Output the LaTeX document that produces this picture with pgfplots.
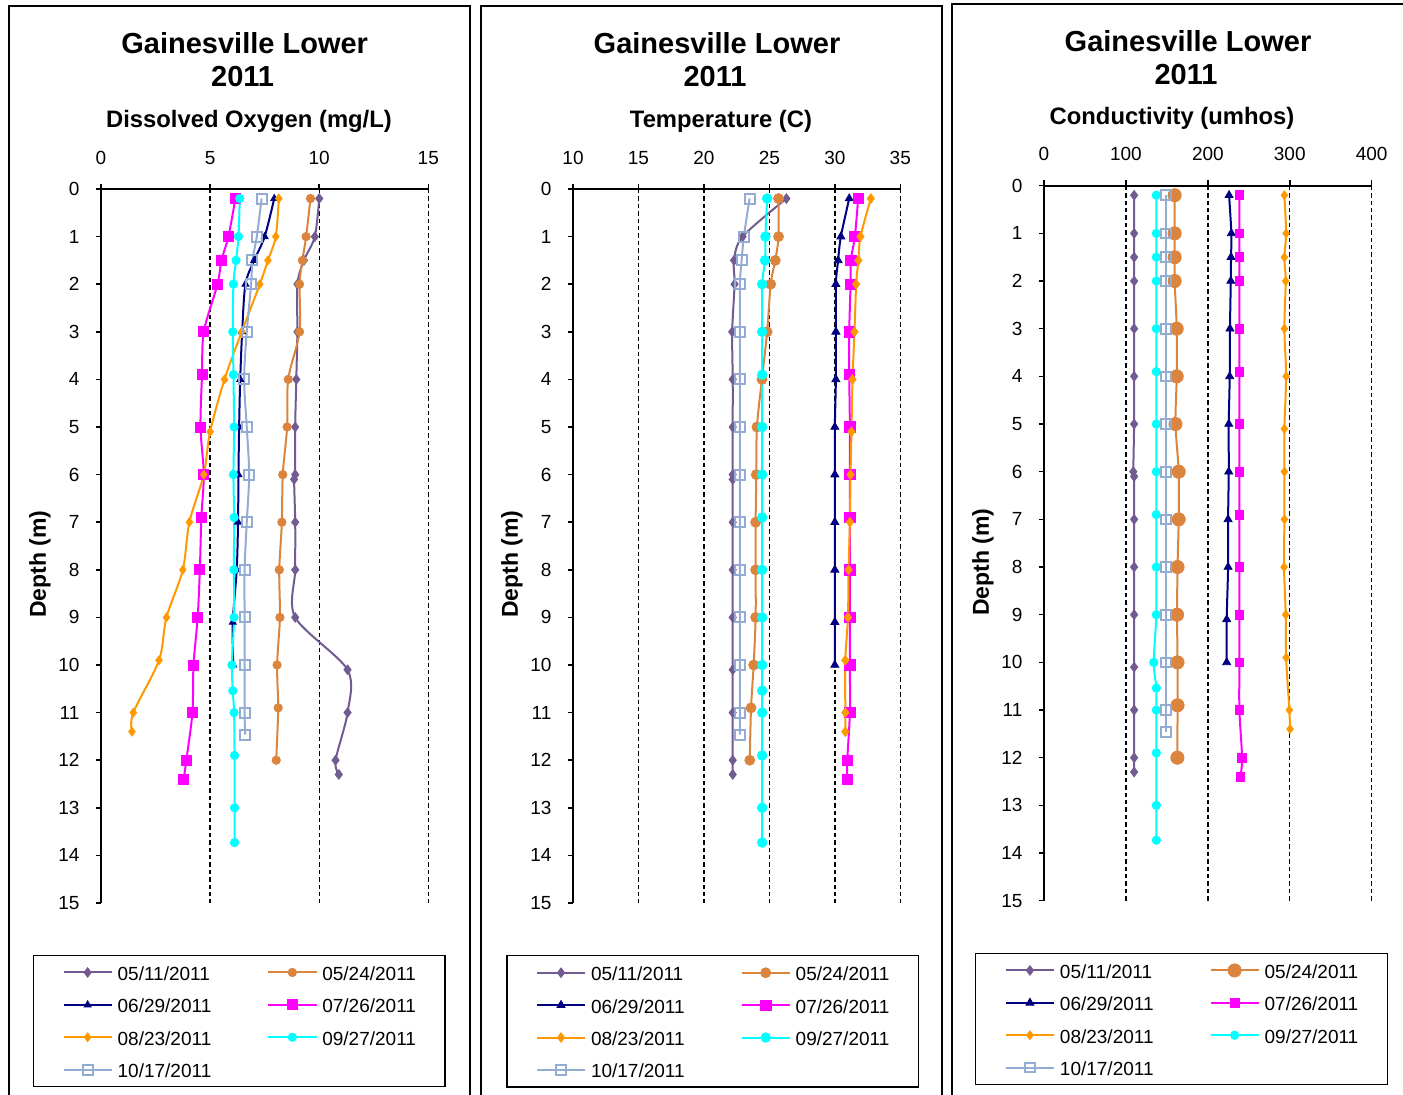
\documentclass[border=0pt]{standalone}
\usepackage{pgfplots}
\pgfplotsset{compat=1.18}
\usepackage{fontspec}
\setmainfont{Liberation Sans}
\definecolor{cA}{RGB}{113,91,145}
\definecolor{cB}{RGB}{219,132,61}
\definecolor{cC}{RGB}{0,0,128}
\definecolor{cD}{RGB}{255,0,255}
\definecolor{cE}{RGB}{255,153,0}
\definecolor{cF}{RGB}{0,255,255}
\definecolor{cG}{RGB}{149,172,210}
\pgfplotsset{
  panel/.style={
    scale only axis, width=163.65pt, height=357pt, clip=false,
    y dir=reverse, ymin=0, ymax=15, ytick={0,1,...,15},
    axis x line=top, axis y line=left,
    axis line style={-, line width=1pt, black},
    every outer x axis line/.append style={-},
    every outer y axis line/.append style={-},
    tick style={black, line width=0.75pt},
    tick align=outside, major tick length=2.75pt,
    xmajorgrids,
    major grid style={black, dash pattern=on 2.2pt off 1.5pt, line width=0.7pt},
    tick label style={font=\fontsize{9.5}{11}\selectfont},
    xticklabel style={yshift=6pt},
    yticklabel style={xshift=-4.5pt},
    /pgf/number format/assume math mode=true,
    legend columns=2,
    legend cell align=left,
    legend style={font=\fontsize{9.5}{11}\selectfont, draw=black, line width=0.75pt,
      inner xsep=14.6pt, inner ysep=4pt, anchor=north west, row sep=7.2pt,
      nodes={inner sep=0pt, text height=8.5pt, text depth=0.5pt},
      /tikz/every even column/.append style={column sep=28pt},
      /tikz/every odd column/.append style={column sep=2.5pt}},
    legend image code/.code={\draw[mark repeat=2,mark phase=2,##1] plot coordinates {(0pt,0pt)(12pt,0pt)(24pt,0pt)};},
  },
  sA/.style={color=cA, line width=1pt, smooth, mark=diamond*, mark size=#1, mark options={solid, fill=cA, line width=0.4pt}},
  sB/.style={color=cB, line width=1pt, smooth, mark=*, mark size=#1, mark options={solid, fill=cB, line width=0.4pt}},
  sC/.style={color=cC, line width=1pt, smooth, mark=triangle*, mark size=#1, mark options={solid, fill=cC, line width=0.4pt}},
  sD/.style={color=cD, line width=1pt, smooth, mark=square*, mark size=#1, mark options={solid, fill=cD, line width=0.4pt}},
  sE/.style={color=cE, line width=1pt, smooth, mark=diamond*, mark size=#1, mark options={solid, fill=cE, line width=0.4pt}},
  sF/.style={color=cF, line width=1pt, smooth, mark=*, mark size=#1, mark options={solid, fill=cF, line width=0.4pt}},
  sG/.style={color=cG, line width=1pt, smooth, mark=square, mark size=#1, mark options={solid, fill=white, line width=1pt}},
}
\begin{document}
\begin{tikzpicture}
\useasboundingbox (0,0) rectangle (701.5pt,-547.5pt);
% panel frames
\draw[line width=1pt] (4.5pt,-560pt) -- (4.5pt,-3pt) -- (235pt,-3pt) -- (235pt,-560pt);
\draw[line width=1pt] (240.35pt,-560pt) -- (240.35pt,-3pt) -- (471.15pt,-3pt) -- (471.15pt,-560pt);
\draw[line width=1pt] (475.85pt,-560pt) -- (475.85pt,-2pt) -- (705pt,-2pt);
% titles
\begin{scope}[every node/.style={anchor=base, font=\bfseries\fontsize{14.5}{16}\selectfont}]
\node at (122.35pt,-27pt) {Gainesville Lower};
\node at (121.3pt,-43.5pt) {2011};
\node at (358.5pt,-27pt) {Gainesville Lower};
\node at (357.5pt,-43.5pt) {2011};
\node at (594pt,-25.85pt) {Gainesville Lower};
\node at (593pt,-42.5pt) {2011};
\end{scope}
\begin{scope}[every node/.style={anchor=base, font=\bfseries\fontsize{11.9}{13}\selectfont}]
\node at (124.5pt,-64pt) {Dissolved Oxygen (mg/L)};
\node at (360.5pt,-64pt) {Temperature (C)};
\node at (586pt,-62.5pt) {Conductivity (umhos)};
\end{scope}
\begin{scope}[every node/.style={rotate=90, font=\bfseries\fontsize{11.5}{13}\selectfont}]
\node at (20pt,-282pt) {Depth (m)};
\node at (256pt,-282pt) {Depth (m)};
\node at (491.5pt,-281pt) {Depth (m)};
\end{scope}

% ---------- Panel 1: Dissolved oxygen
\begin{axis}[panel, at={(50.5pt,-94.5pt)}, anchor=north west,
  xmin=0, xmax=15, xtick={0,5,10,15},
  legend style={at={(-0.2087,-0.0724)}}]
\addplot[sA=2.4pt] coordinates {(10.0,0.2)(9.8,1)(9.3,1.5)(9.0,2)(9.0,3)(8.95,4)(8.9,5)(8.9,6)(8.85,6.1)(8.9,7)(8.9,8)(8.9,9)(11.3,10.1)(11.3,11)(10.75,12)(10.9,12.3)};
\addplot[sB=2.1pt] coordinates {(9.6,0.2)(9.4,1)(9.23,1.5)(9.1,2)(9.1,3)(8.58,4)(8.53,5)(8.33,6)(8.29,7)(8.17,8)(8.2,9)(8.07,10)(8.12,10.9)(8.03,12)};
\addplot[sC=2pt] coordinates {(7.94,0.2)(7.5,1)(7.02,1.5)(6.62,2)(6.47,3)(6.38,4)(6.33,5)(6.3,6)(6.28,7)(6.22,8)(6.04,9.1)(6.06,10)};
\addplot[sD=2.5pt] coordinates {(6.16,0.2)(5.84,1)(5.52,1.5)(5.34,2)(4.71,3)(4.63,3.9)(4.56,5)(4.71,6)(4.6,6.9)(4.53,8)(4.43,9)(4.24,10)(4.19,11)(3.91,12)(3.79,12.4)};
\addplot[sE=2.2pt] coordinates {(8.15,0.2)(8.01,1)(7.65,1.5)(7.28,2)(6.45,3)(5.66,4)(5.0,5.1)(4.71,6)(4.05,7)(3.75,8)(3.0,9)(2.66,9.9)(1.48,11)(1.42,11.4)};
\addplot[sF=2.1pt] coordinates {(6.36,0.2)(6.3,1)(6.19,1.5)(6.07,2)(6.04,3)(6.07,3.9)(6.1,5)(6.07,6)(6.1,6.9)(6.09,8)(6.1,9)(6.0,10)(6.04,10.54)(6.1,11)(6.12,11.9)(6.12,13)(6.12,13.73)};
\addplot[sG=2.5pt] coordinates {(7.36,0.2)(7.14,1)(6.94,1.5)(6.88,2)(6.68,3)(6.56,4)(6.68,5)(6.79,6)(6.68,7)(6.58,8)(6.58,9)(6.58,10)(6.58,11)(6.61,11.46)};
\legend{05/11/2011,05/24/2011,06/29/2011,07/26/2011,08/23/2011,09/27/2011,10/17/2011}
\end{axis}

% ---------- Panel 2: Temperature
\begin{axis}[panel, at={(286.5pt,-94.5pt)}, anchor=north west,
  xmin=10, xmax=35, xtick={10,15,20,25,30,35},
  legend style={at={(-0.2045,-0.0728)}}]
\addplot[sA=2.4pt] coordinates {(26.3,0.2)(22.95,1)(22.3,1.5)(22.34,2)(22.16,3)(22.2,4)(22.2,5)(22.2,6)(22.2,6.1)(22.2,7)(22.2,8)(22.2,9)(22.2,10.1)(22.2,11)(22.2,12)(22.2,12.3)};
\addplot[sB=2.5pt] coordinates {(25.7,0.2)(25.7,1)(25.45,1.5)(25.1,2)(24.83,3)(24.43,4)(24.05,5)(24.0,6)(23.95,7)(23.95,8)(23.95,9)(23.8,10)(23.6,10.9)(23.5,12)};
\addplot[sC=2.3pt] coordinates {(31.1,0.2)(30.46,1)(30.25,1.5)(30.08,2)(30.08,3)(30.08,4)(30.0,5)(30.0,6)(30.0,7)(30.0,8)(30.0,9.1)(30.0,10)};
\addplot[sD=2.6pt] coordinates {(31.78,0.2)(31.53,1)(31.22,1.5)(31.2,2)(31.1,3)(31.1,3.9)(31.15,5)(31.15,6)(31.15,6.9)(31.15,8)(31.15,9)(31.15,10)(31.15,11)(30.95,12)(30.95,12.4)};
\addplot[sE=2.4pt] coordinates {(32.75,0.2)(31.96,1)(31.8,1.5)(31.63,2)(31.5,3)(31.35,4)(31.27,5.1)(31.2,6)(31.15,7)(31.05,8)(31.0,9)(30.8,9.9)(30.8,11)(30.8,11.4)};
\addplot[sF=2.4pt] coordinates {(24.83,0.2)(24.7,1)(24.67,1.5)(24.45,2)(24.45,3)(24.45,3.9)(24.45,5)(24.45,6)(24.45,6.9)(24.45,8)(24.45,9)(24.45,10)(24.45,10.54)(24.45,11)(24.45,11.9)(24.45,13)(24.45,13.73)};
\addplot[sG=2.5pt] coordinates {(23.49,0.2)(23.05,1)(22.88,1.5)(22.75,2)(22.75,3)(22.75,4)(22.75,5)(22.75,6)(22.75,7)(22.75,8)(22.75,9)(22.75,10)(22.75,11)(22.75,11.46)};
\legend{05/11/2011,05/24/2011,06/29/2011,07/26/2011,08/23/2011,09/27/2011,10/17/2011}
\end{axis}

% ---------- Panel 3: Conductivity
\begin{axis}[panel, at={(522pt,-92.85pt)}, anchor=north west, width=163.85pt, height=357.5pt,
  xmin=0, xmax=400, xtick={0,100,200,300,400},
  legend style={at={(-0.2106,-0.0727)}}]
\addplot[sA=2.4pt] coordinates {(110,0.2)(110,1)(110,1.5)(110,2)(110,3)(110,4)(110,5)(109,6)(110,6.1)(110,7)(110,8)(110,9)(110,10.1)(110,11)(110,12)(110,12.3)};
\addplot[sB=3.3pt] coordinates {(159.5,0.2)(159.5,1)(159.5,1.5)(159.5,2)(162,3)(162,4)(160.5,5)(164.4,6)(164.4,7)(163,8)(162.4,9)(163,10)(163,10.9)(162.8,12)};
\addplot[sC=2.3pt] coordinates {(225.9,0.2)(228.7,1)(228.3,1.5)(228,2)(227,3)(226.7,4)(225.5,5)(225.5,6)(224.7,7)(224.7,8)(223,9.1)(223,10)};
\addplot[sD=2.2pt] coordinates {(238.5,0.2)(238.5,1)(238.5,1.5)(238.5,2)(238.5,3)(238.5,3.9)(238.5,5)(238.5,6)(238.5,6.9)(238.5,8)(238.5,9)(238.5,10)(238.5,11)(241.8,12)(239.7,12.4)};
\addplot[sE=2.2pt] coordinates {(293.4,0.2)(295.5,1)(293.4,1.5)(295,2)(293.4,3)(295.5,4)(293.4,5.1)(293.4,6)(293.4,7)(293,8)(295,9)(295.5,9.9)(299.5,11)(300.3,11.4)};
\addplot[sF=2.1pt] coordinates {(137.1,0.2)(137.1,1)(137.1,1.5)(137.1,2)(137.1,3)(137.1,3.9)(137.1,5)(137.1,6)(137.1,6.9)(137.1,8)(137.1,9)(134,10)(137.1,10.54)(137.1,11)(137.1,11.9)(137.1,13)(137.1,13.73)};
\addplot[sG=2.4pt] coordinates {(148.6,0.2)(148.6,1)(148.6,1.5)(148.6,2)(148.6,3)(148.6,4)(148.6,5)(148.6,6)(148.6,7)(148.6,8)(148.6,9)(148.6,10)(148.6,11)(148.6,11.46)};
\legend{05/11/2011,05/24/2011,06/29/2011,07/26/2011,08/23/2011,09/27/2011,10/17/2011}
\end{axis}
\end{tikzpicture}
\end{document}
